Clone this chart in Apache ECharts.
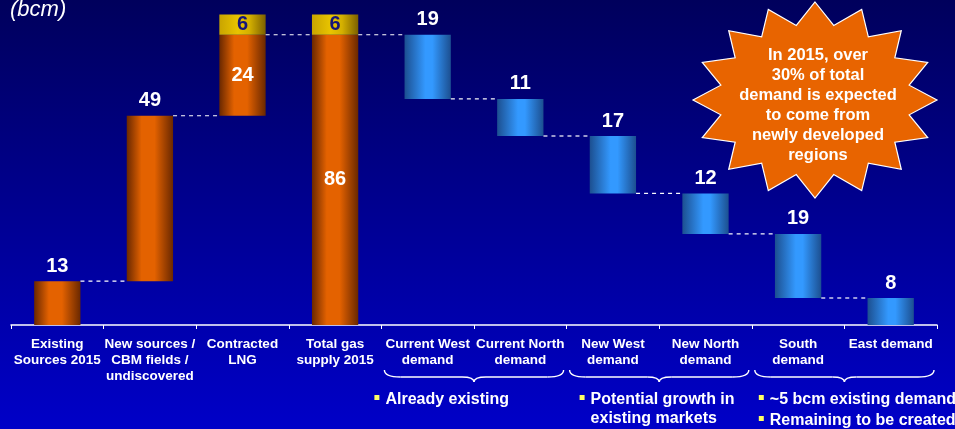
<!DOCTYPE html>
<html><head><meta charset="utf-8">
<script src="https://cdn.jsdelivr.net/npm/echarts@6/dist/echarts.min.js"></script>
<style>html,body{margin:0;padding:0;background:#000080;}#c{width:955px;height:429px;}</style>
</head><body><div id="c"></div>
<script>
const categories = ["Existing\nSources 2015", "New sources /\nCBM fields /\nundiscovered", "Contracted\nLNG", "Total gas\nsupply 2015", "Current West\ndemand", "Current North\ndemand", "New West\ndemand", "New North\ndemand", "South\ndemand", "East demand"];
const supplyValues = [13, 49, 24];
const upsideValue = 6;
const totalSupply = 86;
const demandValues = [19, 11, 17, 12, 19, 8];
const groupNotes = [
  {from: 4, to: 5, lines: ["Already existing"]},
  {from: 6, to: 7, lines: ["Potential growth in\nexisting markets"]},
  {from: 8, to: 9, lines: ["~5 bcm existing demand", "Remaining to be created"]}
];
const calloutText = "In 2015, over\n30% of total\ndemand is expected\nto come from\nnewly developed\nregions";

const FONT = 'Liberation Sans, Arial, sans-serif';
const n = categories.length;
const base = [], orange = [], gold = [], blue = [], levels = [];
let cum = 0;
supplyValues.forEach((v, i) => { base.push(cum); orange.push(v); gold.push('-'); blue.push('-'); cum += v; levels.push([i, cum]); });
gold[2] = upsideValue;
base.push(0); orange.push(totalSupply); gold.push(upsideValue); blue.push('-'); levels.push([3, totalSupply]);
let lvl = totalSupply;
demandValues.forEach((v, j) => { lvl -= v; base.push(lvl); orange.push('-'); gold.push('-'); blue.push(v); if (4 + j < n - 1) levels.push([4 + j, lvl]); });

const orangeGrad = new echarts.graphic.LinearGradient(0, 0, 1, 0, [
  {offset: 0, color: '#6a2800'}, {offset: 0.32, color: '#e46200'}, {offset: 0.6, color: '#e46200'}, {offset: 1, color: '#6a2800'}]);
const goldGrad = new echarts.graphic.LinearGradient(0, 0, 1, 0, [
  {offset: 0, color: '#c9a400'}, {offset: 0.4, color: '#e8c400'}, {offset: 0.65, color: '#d4b000'}, {offset: 1, color: '#7c6000'}]);
const blueGrad = new echarts.graphic.LinearGradient(0, 0, 1, 0, [
  {offset: 0, color: '#1c4f90'}, {offset: 0.45, color: '#3399ff'}, {offset: 0.6, color: '#3399ff'}, {offset: 1, color: '#1c4f90'}]);

const labelFont = {color: '#ffffff', fontSize: 20, fontWeight: 'bold', fontFamily: FONT};

const orangeData = orange.map((v, i) => ({
  value: v,
  label: Object.assign({show: v !== '-', position: (i >= 2 ? 'inside' : 'top'), distance: 5}, labelFont)
}));

function starPoints(cx, cy, rxo, ryo, rxi, ryi, k) {
  const pts = [];
  for (let i = 0; i < 2 * k; i++) {
    const a = -Math.PI / 2 + i * Math.PI / k;
    const o = i % 2 === 0;
    pts.push([cx + Math.cos(a) * (o ? rxo : rxi), cy + Math.sin(a) * (o ? ryo : ryi)]);
  }
  return pts;
}

const chart = echarts.init(document.getElementById('c'));
chart.setOption({
  animation: false,
  backgroundColor: new echarts.graphic.LinearGradient(0, 0, 0, 1, [{offset: 0, color: '#00005c'}, {offset: 1, color: '#0000c8'}]),
  grid: {left: 11, right: 18, top: 1, bottom: 104},
  xAxis: {
    type: 'category', data: categories,
    axisLine: {lineStyle: {color: '#ffffff', width: 1.5}},
    axisTick: {show: true, length: 4, lineStyle: {color: '#ffffff'}},
    axisLabel: {interval: 0, color: '#ffffff', fontSize: 13.5, fontWeight: 'bold', lineHeight: 16, margin: 11, fontFamily: FONT}
  },
  yAxis: {type: 'value', min: 0, max: 96, show: false, splitLine: {show: false}},
  series: [
    {type: 'bar', stack: 'w', data: base, barWidth: '50%', itemStyle: {color: 'transparent'}, silent: true},
    {type: 'bar', stack: 'w', data: orangeData, itemStyle: {color: orangeGrad}},
    {type: 'bar', stack: 'w', data: gold, itemStyle: {color: goldGrad},
      label: Object.assign({}, labelFont, {show: true, position: 'inside', color: '#14147a'})},
    {type: 'bar', stack: 'w', data: blue, itemStyle: {color: blueGrad},
      label: Object.assign({}, labelFont, {show: true, position: 'top', distance: 5})},
    {type: 'custom', data: levels, z: 5,
      renderItem: function (params, api) {
        const p = api.coord([api.value(0), api.value(1)]);
        const w = api.size([1, 0])[0];
        const bw = w * 0.5;
        return {type: 'line', shape: {x1: p[0] + bw / 2, y1: p[1], x2: p[0] + w - bw / 2, y2: p[1]},
          style: {stroke: '#ffffff', lineWidth: 1.2, lineDash: [4, 4]}};
      }}
  ]
});

const g = [];
g.push({type: 'text', x: 10, y: -1, style: {text: '(bcm)', fill: '#ffffff', font: 'italic 22px ' + FONT}});
g.push({type: 'polygon', shape: {points: starPoints(815, 100, 122, 98, 96, 76, 16)}, style: {fill: '#e86400', stroke: '#ffffff', lineWidth: 1.2}});
g.push({type: 'text', x: 818, y: 105, style: {text: calloutText, fill: '#ffffff', font: 'bold 16.5px ' + FONT, lineHeight: 20, align: 'center', verticalAlign: 'middle'}});

const step = chart.convertToPixel({xAxisIndex: 0}, 1) - chart.convertToPixel({xAxisIndex: 0}, 0);
const braceStyle = {stroke: '#ffffff', lineWidth: 1.4, fill: null};
groupNotes.forEach(gn => {
  const x1 = chart.convertToPixel({xAxisIndex: 0}, gn.from) - step / 2 + 3;
  const x2 = chart.convertToPixel({xAxisIndex: 0}, gn.to) + step / 2 - 3;
  const xm = (x1 + x2) / 2, y0 = 370, yb = 377, yt = 382;
  g.push({type: 'bezierCurve', shape: {x1: x1, y1: y0, x2: x1 + 16, y2: yb, cpx1: x1, cpy1: yb}, style: braceStyle});
  g.push({type: 'line', shape: {x1: x1 + 16, y1: yb, x2: xm - 12, y2: yb}, style: braceStyle});
  g.push({type: 'bezierCurve', shape: {x1: xm - 12, y1: yb, x2: xm, y2: yt, cpx1: xm, cpy1: yb}, style: braceStyle});
  g.push({type: 'bezierCurve', shape: {x1: xm, y1: yt, x2: xm + 12, y2: yb, cpx1: xm, cpy1: yb}, style: braceStyle});
  g.push({type: 'line', shape: {x1: xm + 12, y1: yb, x2: x2 - 16, y2: yb}, style: braceStyle});
  g.push({type: 'bezierCurve', shape: {x1: x2 - 16, y1: yb, x2: x2, y2: y0, cpx1: x2, cpy1: yb}, style: braceStyle});
  const tx = x1 + (gn.from === 4 ? -10 : (gn.from === 6 ? 10 : 4));
  let ty = 391;
  gn.lines.forEach(t => {
    g.push({type: 'rect', shape: {x: tx, y: ty + 4, width: 5, height: 5}, style: {fill: '#ffff66'}});
    g.push({type: 'text', x: tx + 11, y: ty - 1, style: {text: t, fill: '#ffffff', font: 'bold 16px ' + FONT, lineHeight: 19}});
    ty += 21;
  });
});
chart.setOption({graphic: g});
</script></body></html>
